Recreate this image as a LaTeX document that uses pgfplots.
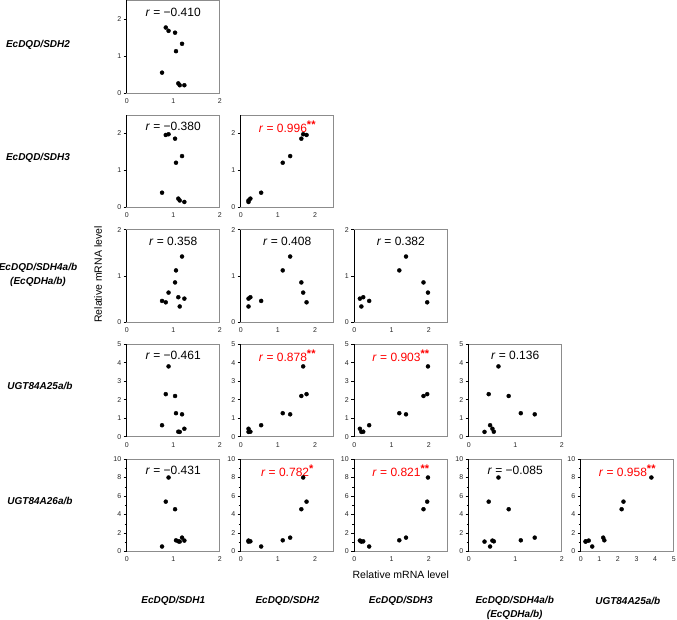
\documentclass[border=0pt]{standalone}
\usepackage{pgfplots}
\usepackage{pgfplotstable}
\pgfplotsset{compat=1.18}
\usepackage{fontspec}
\setmainfont{Liberation Sans}
\definecolor{framegray}{rgb}{0.55,0.55,0.55}
\definecolor{rred}{rgb}{1,0,0}

% samples: s1=SDH1 s2=SDH2 s3=SDH3 s4=SDH4a/b u25=UGT84A25a/b u26=UGT84A26a/b
\pgfplotstableread{
s1   s2   s3   s4   u25  u26
0.84 1.77 1.96 0.43 2.30 5.39
0.90 1.68 1.98 0.64 3.80 8.00
1.04 1.63 1.86 0.86 2.20 4.57
1.19 1.33 1.39 1.42 1.21 1.50
1.06 1.13 1.21 1.12 1.27 1.21
0.76 0.55 0.40 0.46 0.62 0.54
1.11 0.26 0.24 0.54 0.27 1.10
1.14 0.21 0.19 0.34 0.26 1.07
1.24 0.21 0.15 0.51 0.43 1.18
}\data

\pgfplotsset{
  panel/.style={
    scale only axis, width=93pt, height=92.5pt, anchor=south west,
    xmin=0, ymin=0,
    axis line style={draw=framegray, line width=0.8pt},
    tick align=outside, ytick pos=left, xtick pos=bottom,
    xtick style={draw=none},
    ytick style={black, line width=0.5pt},
    major tick length=3pt, minor tick length=2pt,
    tick label style={font=\fontsize{7}{8}\selectfont, text=black!85},
    /pgf/number format/assume math mode=true,
    xticklabel style={yshift=1pt},
    yticklabel style={xshift=1pt},
    clip=false,
    extra description/.code={\draw[black, line width=0.6pt] (0,0) -- (0,1);},
  },
  dots/.style={only marks, mark=*, mark size=2pt, black},
  cA/.style={xmax=2, xtick={0,1,2}},
  cB/.style={xmax=2.5, xtick={0,1,2}},
  cE/.style={xmax=5, xtick={0,1,2,3,4,5}},
  rA/.style={ymax=2.5, ytick={0,1,2}},
  rC/.style={ymax=2, ytick={0,1,2}},
  rD/.style={ymax=5, ytick={0,1,2,3,4,5}},
  rE/.style={ymax=10, ytick={0,2,4,6,8,10}, minor ytick={1,3,5,7,9}},
}
\newcommand{\rlab}[1]{\node[font=\fontsize{12}{14}\selectfont, anchor=center] at (rel axis cs:0.5,1) [yshift=-11.5pt] {#1};}
\newcommand{\rneg}[1]{\textit{r} = −#1}
\newcommand{\rpos}[1]{\textit{r} = #1}
\newcommand{\rsig}[2]{\textcolor{rred}{\textit{r} = #1\raisebox{4.2pt}{\fontsize{11}{11}\selectfont\bfseries #2}}}

\begin{document}
\begin{tikzpicture}[x=1pt,y=1pt]
\path[use as bounding box] (0pt,0pt) rectangle (677pt,619pt);

% Row 1: SDH2
\begin{axis}[panel, cA, rA, at={(126.7pt,526pt)}]
\addplot[dots] table[x=s1, y=s2] {\data};
\rlab{\rneg{0.410}}
\end{axis}

% Row 2: SDH3
\begin{axis}[panel, cA, rA, at={(126.7pt,411.5pt)}]
\addplot[dots] table[x=s1, y=s3] {\data};
\rlab{\rneg{0.380}}
\end{axis}
\begin{axis}[panel, cB, rA, at={(240.7pt,411.5pt)}]
\addplot[dots] table[x=s2, y=s3] {\data};
\rlab{\rsig{0.996}{**}}
\end{axis}

% Row 3: SDH4a/b
\begin{axis}[panel, cA, rC, at={(126.7pt,296.8pt)}]
\addplot[dots] table[x=s1, y=s4] {\data};
\rlab{\rpos{0.358}}
\end{axis}
\begin{axis}[panel, cB, rC, at={(240.7pt,296.8pt)}]
\addplot[dots] table[x=s2, y=s4] {\data};
\rlab{\rpos{0.408}}
\end{axis}
\begin{axis}[panel, cB, rC, at={(354.3pt,296.8pt)}]
\addplot[dots] table[x=s3, y=s4] {\data};
\rlab{\rpos{0.382}}
\end{axis}

% Row 4: UGT84A25a/b
\begin{axis}[panel, cA, rD, at={(126.7pt,182.3pt)}]
\addplot[dots] table[x=s1, y=u25] {\data};
\rlab{\rneg{0.461}}
\end{axis}
\begin{axis}[panel, cB, rD, at={(240.7pt,182.3pt)}]
\addplot[dots] table[x=s2, y=u25] {\data};
\rlab{\rsig{0.878}{**}}
\end{axis}
\begin{axis}[panel, cB, rD, at={(354.3pt,182.3pt)}]
\addplot[dots] table[x=s3, y=u25] {\data};
\rlab{\rsig{0.903}{**}}
\end{axis}
\begin{axis}[panel, cA, rD, at={(468.7pt,182.3pt)}]
\addplot[dots] table[x=s4, y=u25] {\data};
\rlab{\rpos{0.136}}
\end{axis}

% Row 5: UGT84A26a/b
\begin{axis}[panel, cA, rE, at={(126.7pt,67.5pt)}]
\addplot[dots] table[x=s1, y=u26] {\data};
\rlab{\rneg{0.431}}
\end{axis}
\begin{axis}[panel, cB, rE, at={(240.7pt,67.5pt)}]
\addplot[dots] table[x=s2, y=u26] {\data};
\rlab{\rsig{0.782}{*}}
\end{axis}
\begin{axis}[panel, cB, rE, at={(354.3pt,67.5pt)}]
\addplot[dots] table[x=s3, y=u26] {\data};
\rlab{\rsig{0.821}{**}}
\end{axis}
\begin{axis}[panel, cA, rE, at={(468.7pt,67.5pt)}]
\addplot[dots] table[x=s4, y=u26] {\data};
\rlab{\rneg{0.085}}
\end{axis}
\begin{axis}[panel, cE, rE, at={(580.7pt,67.5pt)}]
\addplot[dots] table[x=u25, y=u26] {\data};
\rlab{\rsig{0.958}{**}}
\end{axis}

% Row labels
\begin{scope}[every node/.style={font=\fontsize{10}{14}\selectfont\bfseries\itshape, align=center}]
\node at (38pt,574pt) {EcDQD/SDH2};
\node at (38pt,461pt) {EcDQD/SDH3};
\node at (38pt,344pt) {EcDQD/SDH4a/b\\(EcQDHa/b)};
\node at (40pt,233pt) {UGT84A25a/b};
\node at (40pt,118pt) {UGT84A26a/b};
% Column labels
\node at (173.3pt,18pt) {EcDQD/SDH1};
\node at (287.5pt,18pt) {EcDQD/SDH2};
\node at (400.8pt,18pt) {EcDQD/SDH3};
\node at (514.7pt,11pt) {EcDQD/SDH4a/b\\(EcQDHa/b)};
\node at (627.8pt,18pt) {UGT84A25a/b};
\end{scope}

% axis titles
\node[font=\fontsize{10.5}{12}\selectfont] at (400.8pt,44pt) {Relative mRNA level};
\node[font=\fontsize{10.5}{12}\selectfont, rotate=90] at (98pt,344.5pt) {Relative mRNA level};
\end{tikzpicture}
\end{document}
